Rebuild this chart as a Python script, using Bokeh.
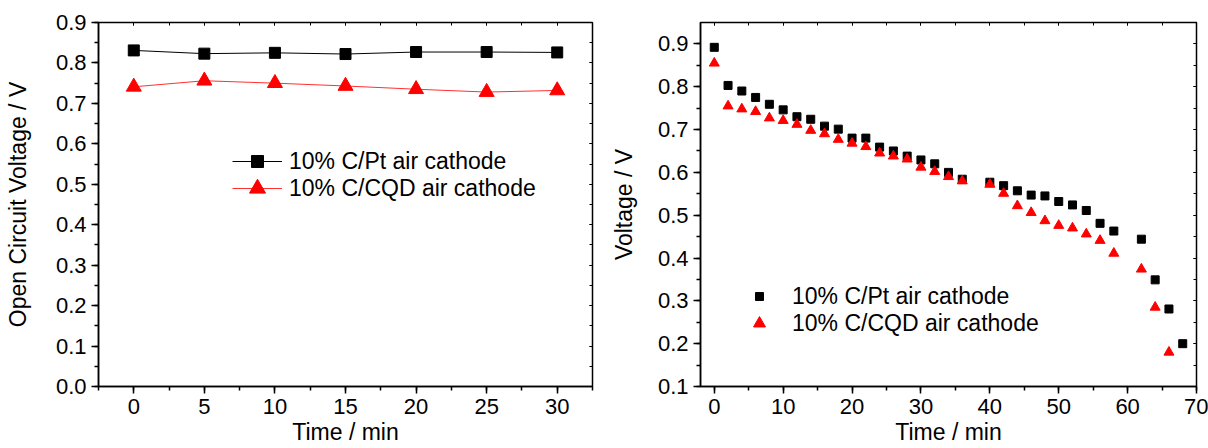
from bokeh.plotting import figure
from bokeh.layouts import row
from bokeh.models import (Range1d, SingleIntervalTicker, LinearAxis, Legend, LegendItem,
                          NumeralTickFormatter, CustomJSTickFormatter)
from bokeh.embed import file_html
from bokeh.resources import INLINE

# ---- Left panel: open circuit voltage vs time ----
ocv_time = [0, 5, 10, 15, 20, 25, 30]
ocv_pt = [0.831, 0.823, 0.825, 0.822, 0.827, 0.827, 0.826]
ocv_cqd = [0.741, 0.756, 0.750, 0.743, 0.735, 0.728, 0.732]

# ---- Right panel: discharge voltage vs time ----
pt_time = [0, 2, 4, 6, 8, 10, 12, 14, 16, 18, 20, 22, 24, 26, 28, 30, 32, 34, 36,
           40, 42, 44, 46, 48, 50, 52, 54, 56, 58, 62, 64, 66, 68]
pt_volt = [0.892, 0.803, 0.790, 0.775, 0.759, 0.746, 0.730, 0.724, 0.708, 0.701,
           0.680, 0.680, 0.659, 0.650, 0.638, 0.629, 0.620, 0.600, 0.584,
           0.577, 0.569, 0.557, 0.547, 0.545, 0.532, 0.524, 0.511, 0.481, 0.463,
           0.444, 0.349, 0.281, 0.200]
cqd_time = [0, 2, 4, 6, 8, 10, 12, 14, 16, 18, 20, 22, 24, 26, 28, 30, 32, 34, 36,
            40, 42, 44, 46, 48, 50, 52, 54, 56, 58, 62, 64, 66]
cqd_volt = [0.855, 0.755, 0.748, 0.742, 0.727, 0.721, 0.712, 0.698, 0.690, 0.677,
            0.668, 0.660, 0.645, 0.638, 0.631, 0.612, 0.602, 0.590, 0.580,
            0.572, 0.551, 0.522, 0.506, 0.487, 0.476, 0.470, 0.456, 0.441, 0.411,
            0.374, 0.285, 0.180]

label_pt = "10% C/Pt air cathode"
label_cqd = "10% C/CQD air cathode"
x_title = "Time / min"
y_title_left = "Open Circuit Voltage / V"
y_title_right = "Voltage / V"

FONT = "Liberation Sans"
TICK_FS = "22px"
TITLE_FS = "23px"
LEG_FS = "23px"
LW = 1.5


def style_main_axis(ax, title, standoff):
    ax.axis_label = title
    ax.axis_label_text_font = FONT
    ax.axis_label_text_font_size = TITLE_FS
    ax.axis_label_text_font_style = "normal"
    ax.axis_label_text_color = "black"
    ax.axis_label_standoff = standoff
    ax.major_label_text_font = FONT
    ax.major_label_text_font_size = TICK_FS
    ax.major_label_text_color = "black"
    ax.major_label_standoff = 5
    ax.axis_line_color = "black"
    ax.axis_line_width = LW
    ax.major_tick_line_color = "black"
    ax.major_tick_line_width = LW
    ax.minor_tick_line_color = "black"
    ax.minor_tick_line_width = LW
    ax.major_tick_in = 0
    ax.major_tick_out = 7
    ax.minor_tick_in = 0
    ax.minor_tick_out = 4


def add_mirror_axis(p, ticker, side):
    ax = LinearAxis(ticker=ticker, formatter=CustomJSTickFormatter(code="return ''"))
    ax.major_label_text_font_size = "0px"
    ax.major_label_standoff = 0
    ax.axis_line_color = None
    ax.major_tick_line_color = "black"
    ax.major_tick_line_width = 1
    ax.minor_tick_line_color = "black"
    ax.minor_tick_line_width = 1
    ax.major_tick_in = 3
    ax.major_tick_out = 0
    ax.minor_tick_in = 3
    ax.minor_tick_out = 0
    p.add_layout(ax, side)


def make_fig(width, x_range, y_range, xint, yint, bl, br, bb):
    p = figure(width=width, height=448, x_range=x_range, y_range=y_range,
               output_backend="svg", toolbar_location=None,
               min_border_left=bl, min_border_right=br,
               min_border_top=22, min_border_bottom=bb)
    p.xgrid.visible = False
    p.ygrid.visible = False
    p.outline_line_color = "black"
    p.outline_line_width = LW
    p.background_fill_color = "white"
    p.border_fill_color = "white"
    xax = p.below[0]
    yax = p.left[0]
    xax.ticker = SingleIntervalTicker(interval=xint, num_minor_ticks=2)
    yax.ticker = SingleIntervalTicker(interval=yint, num_minor_ticks=2)
    yax.formatter = NumeralTickFormatter(format="0.0")
    add_mirror_axis(p, SingleIntervalTicker(interval=xint, num_minor_ticks=2), "above")
    add_mirror_axis(p, SingleIntervalTicker(interval=yint, num_minor_ticks=2), "right")
    return p, xax, yax


def one_legend(p, label, renderers, loc, gw, gh, standoff):
    leg = Legend(items=[LegendItem(label=label, renderers=renderers)],
                 location=loc, orientation="vertical",
                 glyph_width=gw, glyph_height=gh, spacing=0, padding=0, margin=0,
                 label_standoff=standoff, label_text_font=FONT,
                 label_text_font_size=LEG_FS, label_text_color="black",
                 label_text_baseline="middle",
                 border_line_color=None, background_fill_alpha=0)
    p.add_layout(leg, "center")


# ---------------- Left figure ----------------
p1, x1, y1 = make_fig(600, Range1d(-2.5, 32.5), Range1d(0, 0.9), 5, 0.1, 98, 8, 61)
style_main_axis(x1, x_title, 2)
style_main_axis(y1, y_title_left, 22)

l_pt = p1.line(ocv_time, ocv_pt, line_color="black", line_width=1)
s_pt = p1.scatter(ocv_time, ocv_pt, marker="square", size=11,
                  fill_color="black", line_color="black")
l_cqd = p1.line(ocv_time, ocv_cqd, line_color="#ff3030", line_width=1)
s_cqd = p1.scatter(ocv_time, ocv_cqd, marker="triangle", size=15,
                   fill_color="red", line_color="red")

one_legend(p1, label_pt, [l_pt, s_pt], (134, 210), 50, 30, 7)
one_legend(p1, label_cqd, [l_cqd, s_cqd], (134, 178), 50, 40, 7)

# ---------------- Right figure ----------------
p2, x2, y2 = make_fig(608, Range1d(-2, 70), Range1d(0.1, 0.95), 10, 0.1, 100, 12, 62)
style_main_axis(x2, x_title, 2)
style_main_axis(y2, y_title_right, 18)

r_pt = p2.scatter(pt_time, pt_volt, marker="square", size=8,
                  fill_color="black", line_color="black")
r_cqd = p2.scatter(cqd_time, cqd_volt, marker="triangle", size=10,
                   fill_color="red", line_color="red")

one_legend(p2, label_pt, [r_pt], (49, 75), 20, 30, 23)
one_legend(p2, label_cqd, [r_cqd], (44, 48), 30, 30, 18)

layout = row(p1, p2)
open("out.html", "w").write(file_html(layout, INLINE))
